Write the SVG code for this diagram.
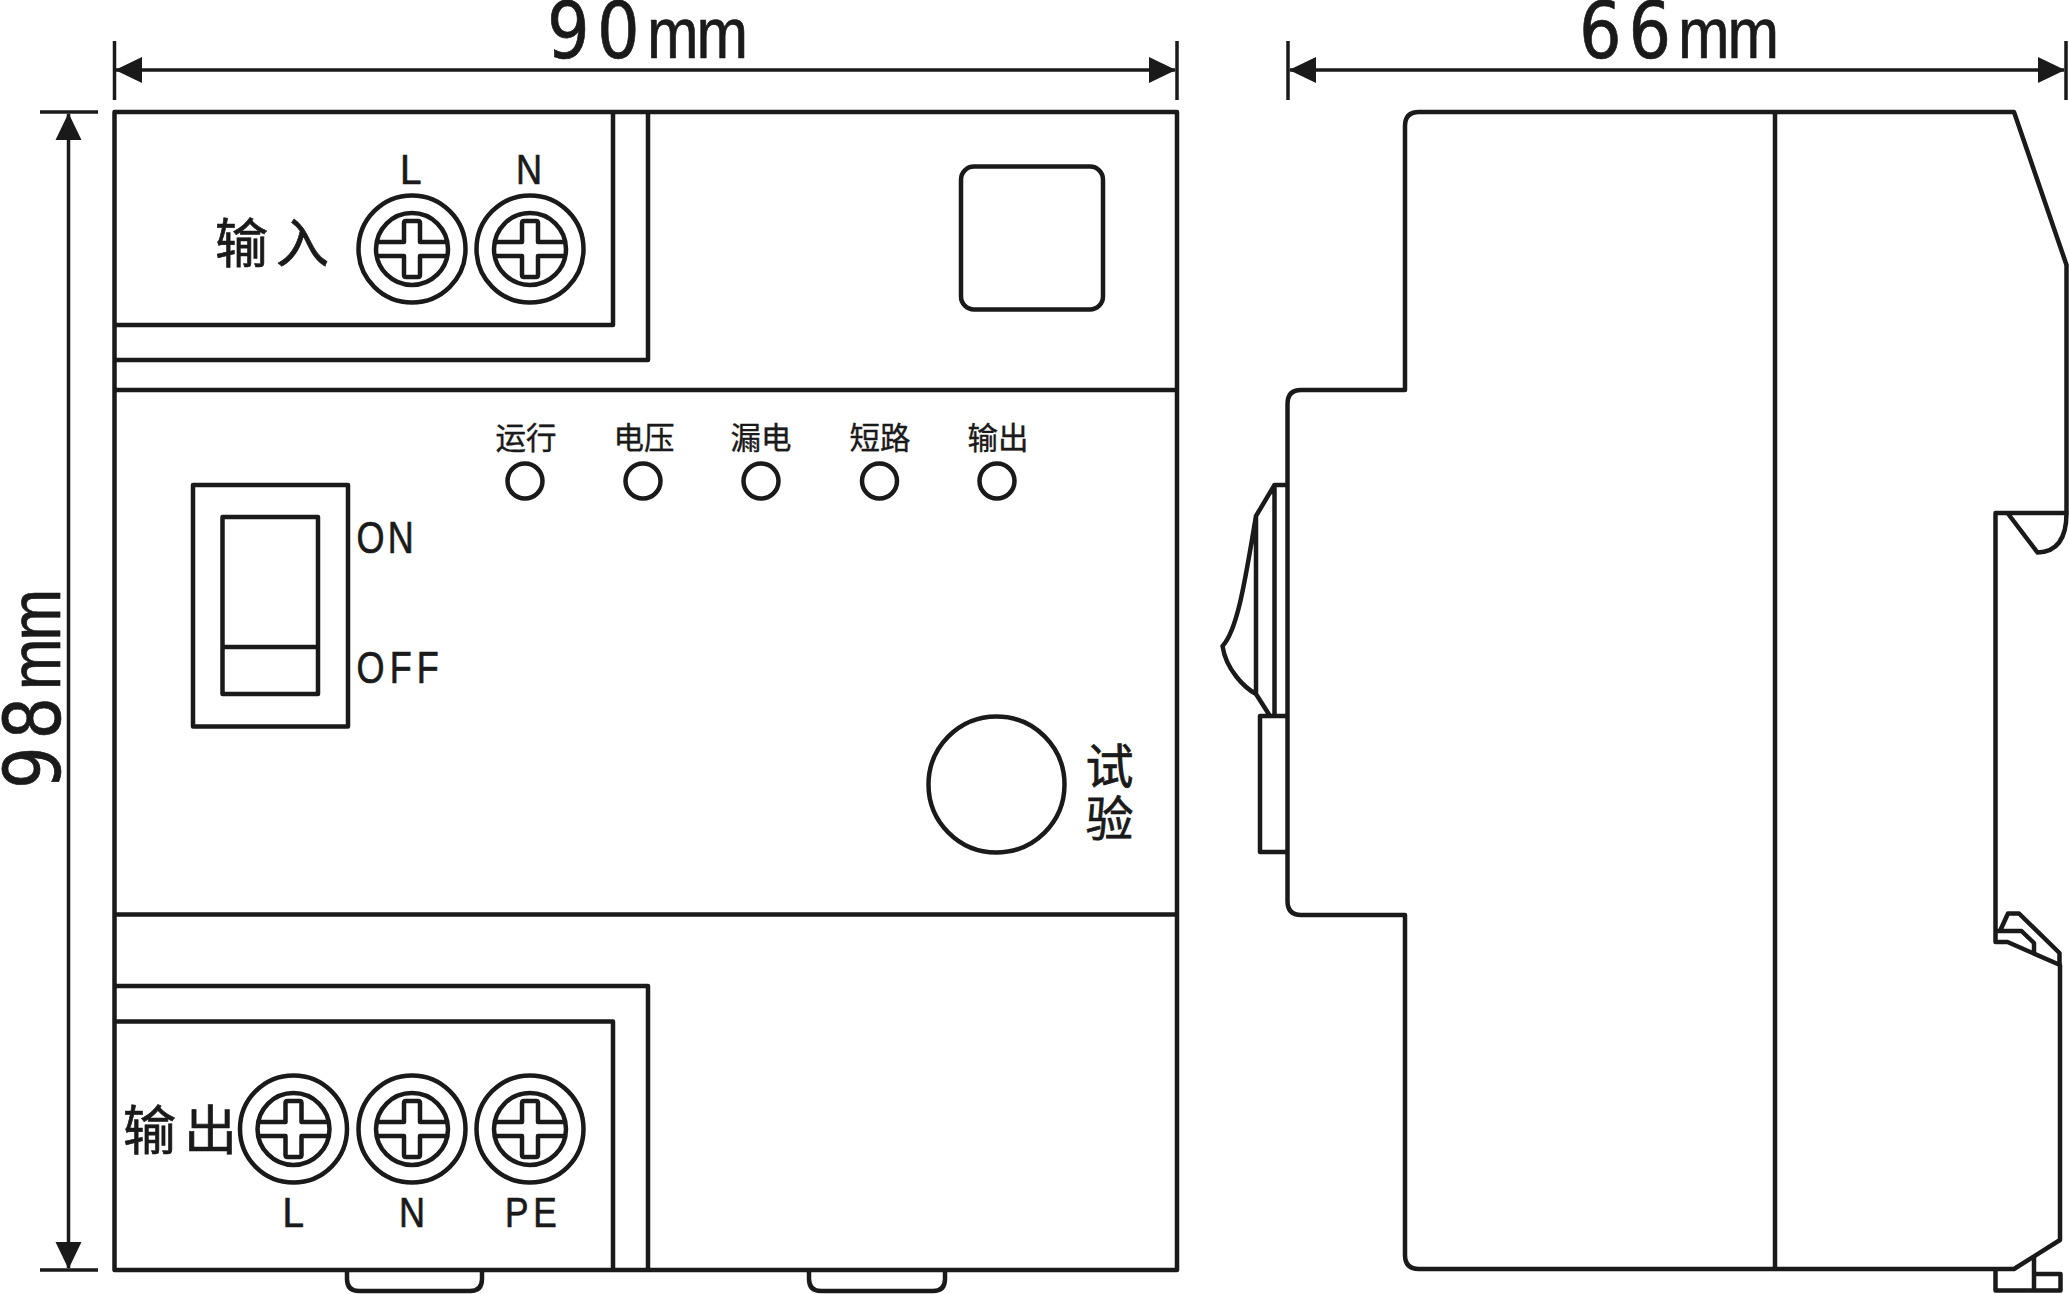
<svg xmlns="http://www.w3.org/2000/svg" width="2069" height="1294" viewBox="0 0 2069 1294">
<style>
.l{fill:none;stroke:#1a1a1a;stroke-width:4.5;stroke-linejoin:round;stroke-linecap:butt}
.d{fill:none;stroke:#1a1a1a;stroke-width:3.5}
.t{fill:#1a1a1a;stroke:#1a1a1a;stroke-width:.7;font-family:"Liberation Sans",Arial,sans-serif}
.n{font-family:"DejaVu Sans",sans-serif;font-size:78px}
.m{font-size:72px;letter-spacing:-2.500px}
.c{fill:#1a1a1a;stroke:#1a1a1a;stroke-width:.7;font-family:"Noto Sans CJK SC","Noto Sans CJK JP",sans-serif}
</style>
<defs>
<marker id="a" markerUnits="userSpaceOnUse" markerWidth="28" markerHeight="28" refX="26" refY="14" orient="auto-start-reverse"><path d="M0 1L27 14L0 27Z" fill="#1a1a1a"/></marker>
<g id="screw"><circle class="l" r="53.500"/><circle class="l" r="36"/><path class="l" d="M-35-7H-8V-26Q-8-28-6-28H6Q8-28 8-26V-7H35M-35 7H-8V26Q-8 28-6 28H6Q8 28 8 26V7H35"/></g>
</defs>
<rect width="2069" height="1294" fill="#fff"/>
<g id="front">
<rect class="l" x="114.500" y="112" width="1062.500" height="1158"/>
<path class="l" d="M114.500 325H613V112M114.500 360H648V112M114.500 390H1177M114.500 914.500H1177M114.500 986H648V1270M114.500 1021.500H613V1270"/>
<path class="l" d="M347 1271V1279Q347 1291 359 1291H470Q482 1291 482 1279V1271M809 1271V1279Q809 1291 821 1291H933Q945 1291 945 1279V1271"/>
</g>
<g id="input-terminal">
<use href="#screw" x="412" y="249"/><use href="#screw" x="530" y="249"/>
<text class="c" x="215" y="263" font-size="53" letter-spacing="8">输入</text>
<text class="t" transform="translate(400 184) scale(.9 1)" font-size="43">L</text>
<text class="t" transform="translate(516 184) scale(.84 1)" font-size="43">N</text>
</g>
<g id="output-terminal">
<use href="#screw" x="293.500" y="1129"/><use href="#screw" x="412" y="1129"/><use href="#screw" x="530" y="1129"/>
<text class="c" x="123" y="1150" font-size="53" letter-spacing="8">输出</text>
<text class="t" transform="translate(282.500 1227) scale(.9 1)" font-size="43">L</text>
<text class="t" transform="translate(399 1227) scale(.84 1)" font-size="43">N</text>
<text class="t" transform="translate(505 1227) scale(.82 1)" font-size="43" letter-spacing="5.800">PE</text>
</g>
<g id="display"><rect class="l" x="961" y="166.500" width="142" height="143" rx="13"/></g>
<g id="lights">
<circle class="l" cx="525" cy="481" r="17.500"/><circle class="l" cx="643" cy="481" r="17.500"/><circle class="l" cx="761" cy="481" r="17.500"/><circle class="l" cx="879.500" cy="481" r="17.500"/><circle class="l" cx="997" cy="481" r="17.500"/>
<g class="c" font-size="30.500" text-anchor="middle" style="stroke-width:.4">
<text x="526" y="449">运行</text><text x="644" y="449">电压</text><text x="761" y="449">漏电</text><text x="880" y="449">短路</text><text x="998" y="449">输出</text>
</g>
</g>
<g id="switch">
<rect class="l" x="193" y="485" width="155" height="241.500"/>
<rect class="l" x="222.500" y="517" width="95.500" height="177"/>
<path class="l" d="M222.500 647H318"/>
<text class="t" transform="translate(356.500 552.500) scale(.8 1)" font-size="45" letter-spacing="4">ON</text>
<text class="t" transform="translate(356.500 682.500) scale(.8 1)" font-size="45" letter-spacing="6.500">OFF</text>
</g>
<g id="test">
<circle class="l" cx="996.500" cy="784.500" r="68"/>
<text class="c" font-size="48"><tspan x="1085.500" y="784">试</tspan><tspan x="1085.500" y="836">验</tspan></text>
</g>
<g id="side">
<path class="l" d="M1419 112H2014L2066.500 265V513H1995.500V942H2007.500L2060 965V1240L2014 1269H1419Q1405 1269 1405 1255V915H1301Q1287.500 915 1287.500 901V404Q1287.500 390 1301 390H1405V126Q1405 112 1419 112Z"/>
<path class="l" d="M1775 112V1269"/>
<path class="l" d="M1287.500 485H1274.500V716M1274.500 485L1256 516V694L1270 716M1256 516C1246 575 1238 630 1222.500 646C1226 670 1245 688 1256 694M1287.500 716H1260V852H1287.500"/>
<path class="l" d="M2007.500 513L2037.500 552.500C2056 552 2066.500 540 2066.500 513"/>
<path class="l" d="M1995.500 931H2021.500L2034 943V952M2000 931L2008 913.500H2019L2059.500 953V965"/>
<path class="l" d="M1995.500 1269V1290.500H2060.500V1274H2034M2034 1257V1290.500"/>
</g>
<g id="connectors">
<path class="d" d="M114.500 41V100M1177 41V100M1288 41V100M2066 41V100M40 112H98M40 1270H98"/>
<path class="d" marker-start="url(#a)" marker-end="url(#a)" d="M116 70H1175"/>
<path class="d" marker-start="url(#a)" marker-end="url(#a)" d="M1290 70H2064"/>
<path class="d" marker-start="url(#a)" marker-end="url(#a)" d="M68.500 114V1268"/>
</g>
<g id="dim-labels">
<text class="t" transform="translate(547 58) scale(.86 1)"><tspan class="n" letter-spacing="8.500">90</tspan><tspan class="m">mm</tspan></text>
<text class="t" transform="translate(1579 58) scale(.86 1)"><tspan class="n" letter-spacing="8">66</tspan><tspan class="m">mm</tspan></text>
<text class="t" transform="translate(60 789) rotate(-90) scale(.86 1)"><tspan class="n" letter-spacing="8">98</tspan><tspan class="m">mm</tspan></text>
</g>
</svg>
